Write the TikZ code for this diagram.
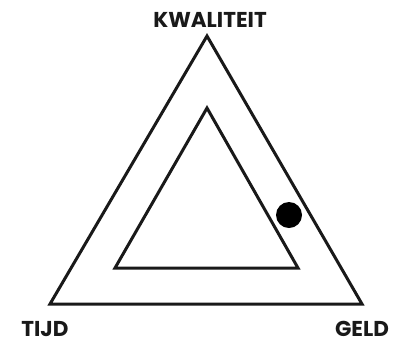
\documentclass[tikz,border=0pt]{standalone}
\usepackage{fontspec}
\setmainfont{Poppins}
\begin{document}
\begin{tikzpicture}[x=1pt, y=-1pt, line cap=round, line join=miter]
% Triangle of project constraints
\def\edgewd{3pt}
\providecommand{\triLineColor}{black!90}
\tikzset{cornerlabel/.style={font=\bfseries\fontsize{21.5}{22}\selectfont, inner sep=0pt, anchor=base, text depth=0pt, text=black!90}}
\useasboundingbox (0,0) rectangle (406,341);
% Outer triangle
\coordinate (outtop) at (207,36);
\coordinate (outleft) at (50,304);
\coordinate (outright) at (362,304);
\draw[draw=\triLineColor, line width=\edgewd] (outtop) -- (outleft) -- (outright) -- cycle;
% Inner triangle
\coordinate (intop) at (207,108);
\coordinate (inleft) at (115,268);
\coordinate (inright) at (298,268);
\draw[draw=\triLineColor, line width=\edgewd] (intop) -- (inleft) -- (inright) -- cycle;
% Position marker
\fill[black] (289,215) circle (13);
% Labels
\node[cornerlabel] (kwaliteit) at (210,27) {KWALITEIT};
\node[cornerlabel] (tijd) at (45,336) {TIJD};
\node[cornerlabel] (geld) at (362,336) {GELD};
\end{tikzpicture}
\end{document}
